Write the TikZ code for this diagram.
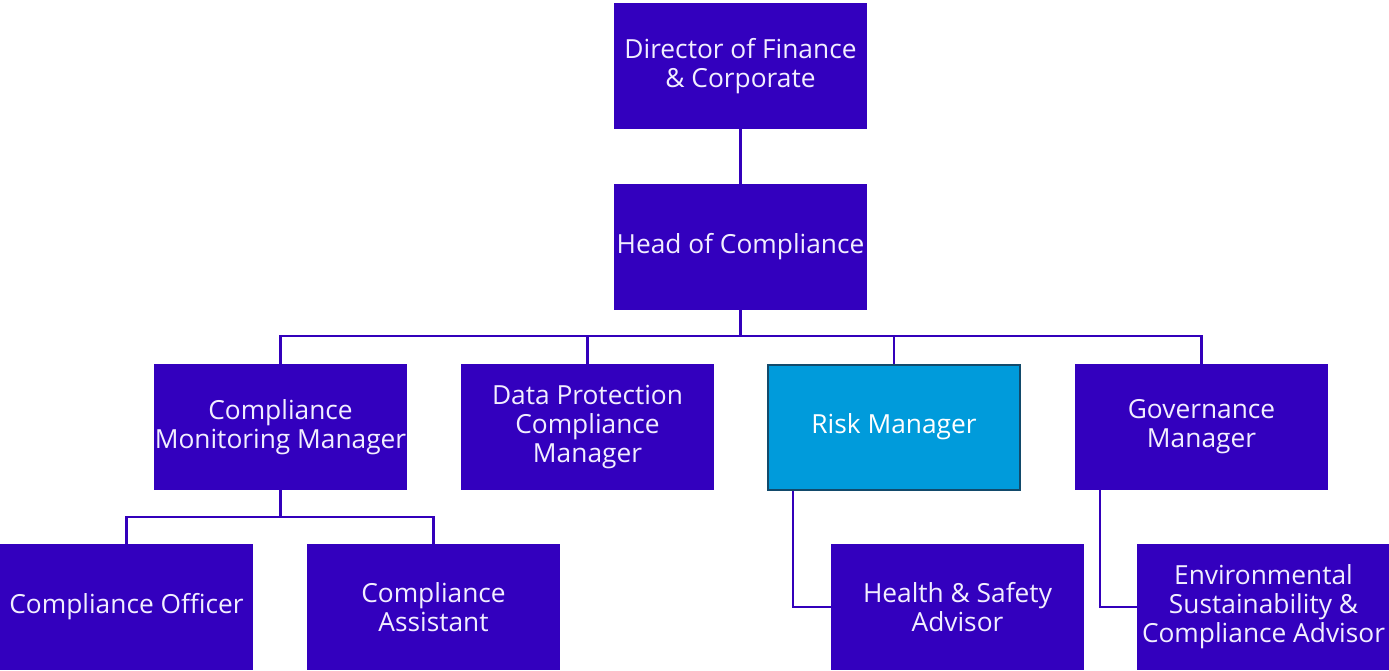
\documentclass[tikz,border=0pt]{standalone}
\usepackage{fontspec}
\setmainfont{Open Sans}
\definecolor{boxfill}{HTML}{3300BE}
\definecolor{linecol}{HTML}{3300BB}
\definecolor{riskfill}{HTML}{009BDB}
\definecolor{riskedge}{HTML}{124A6B}
\definecolor{txt}{HTML}{F2EEFF}
\begin{document}
\begin{tikzpicture}[x=1pt,y=-1pt,
  role/.style={rectangle, fill=boxfill, minimum width=253pt, minimum height=126pt,
    inner sep=0pt, text=txt, align=center, font=\fontsize{26.3}{29}\selectfont},
  riskbox/.style={role, fill=riskfill, draw=riskedge, line width=2pt, text=white,
    minimum width=252pt, minimum height=125pt},
  link/.style={draw=linecol, line width=2.5pt}]
\useasboundingbox (0,0) rectangle (1389,670);

% level 1 and 2
\node[role] (dir) at (740.5,66) {Director of Finance\\\& Corporate};
\node[role] (head) at (740.5,247) {Head of Compliance};

% level 3
\node[role] (cmm) at (280.5,427) {Compliance\\Monitoring Manager};
\node[role] (dpcm) at (587.5,427) {Data Protection\\Compliance\\Manager};
\node[riskbox] (risk) at (894,427) {Risk Manager};
\node[role] (gov) at (1201.5,427) {Governance\\Manager};

% level 4
\node[role] (co) at (126.5,607) {Compliance Officer};
\node[role] (ca) at (433.5,607) {Compliance\\Assistant};
\node[role] (hs) at (957.5,607) {Health \& Safety\\Advisor};
\node[role] (env) at (1263.5,607) {Environmental\\Sustainability \&\\Compliance Advisor};

% reporting lines
\coordinate (bus) at (0,336);
\coordinate (subbus) at (0,517);
\draw[link] (dir.south) -- (head.north);
\draw[link] (head.south) -- (head.south |- bus);
\draw[link] (cmm.north) |- (gov.north |- bus) -- (gov.north);
\draw[link] (dpcm.north) -- (dpcm.north |- bus);
\draw[link] (risk.north) -- (risk.north |- bus);
\draw[link] (cmm.south) -- (cmm.south |- subbus);
\draw[link] (co.north) |- (ca.north |- subbus) -- (ca.north);
\draw[link] ([xshift=26pt]risk.south west) |- (hs.west);
\draw[link] ([xshift=25pt]gov.south west) |- (env.west);
\end{tikzpicture}
\end{document}
